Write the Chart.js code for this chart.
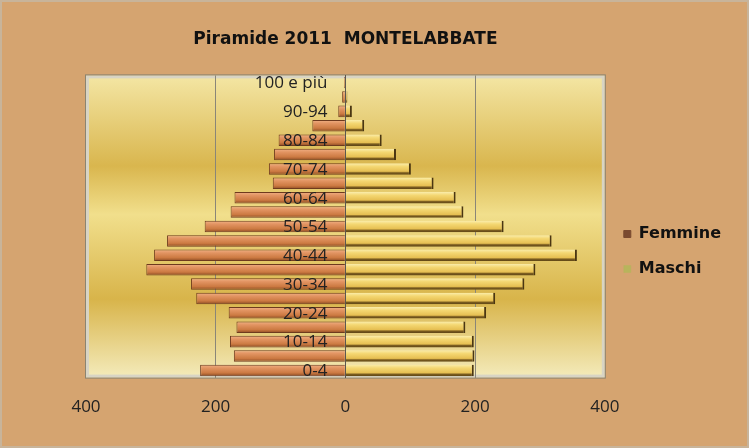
<!DOCTYPE html>
<html lang="it">
<head>
    <meta charset="UTF-8">
    <title>Piramide 2011 MONTELABBATE</title>
    <script src="https://cdn.jsdelivr.net/npm/chart.js"></script>
    <style>
        html, body { margin: 0; padding: 0; background: #d4a26e; }
        #wrap { width: 749px; height: 448px; }
    </style>
</head>
<body>
    <div id="wrap"><canvas id="piramide" width="749" height="448"></canvas></div>

    <script>
        // classi di età, dalla più giovane alla più anziana
        const ageGroups = ['0-4', '5-9', '10-14', '15-19', '20-24', '25-29', '30-34', '35-39',
            '40-44', '45-49', '50-54', '55-59', '60-64', '65-69', '70-74', '75-79',
            '80-84', '85-89', '90-94', '95-99', '100 e più'];
        // valori (femmine a sinistra, quindi negativi)
        const femmine = [-224, -172, -178, -168, -180, -230, -238, -307, -295, -275, -217,
            -177, -171, -112, -118, -110, -103, -51, -11, -5, -2];
        const maschi = [198, 199, 198, 185, 217, 231, 276, 293, 357, 318, 244,
            182, 170, 136, 101, 78, 56, 29, 10, 3, 1];
        const xTicks = [-400, -200, 0, 200, 400];

        const legendColors = ['#7a4a30', '#b8b45c'];

        // gradiente verticale per ogni barra, come l'effetto "cilindro" di Excel
        function barGradient(stops, fallback) {
            return function(ctx) {
                const chart = ctx.chart;
                const ys = chart.scales.y;
                if (!ys || ctx.dataIndex === undefined) return fallback;
                const yc = ys.getPixelForValue(ctx.dataIndex);
                if (!isFinite(yc)) return fallback;
                const g = chart.ctx.createLinearGradient(0, yc - 6, 0, yc + 6);
                stops.forEach(s => g.addColorStop(s[0], s[1]));
                return g;
            };
        }

        // sfondo sughero e area del grafico dorata
        const backdrop = {
            id: 'backdrop',
            beforeDraw(chart) {
                const c = chart.ctx;
                const a = chart.chartArea;
                c.save();
                c.fillStyle = '#d5a470';
                c.fillRect(0, 0, chart.width, chart.height);
                c.strokeStyle = '#c8b49a';
                c.lineWidth = 2;
                c.strokeRect(1, 1, chart.width - 2, chart.height - 2);

                const g = c.createLinearGradient(0, a.top, 0, a.bottom);
                g.addColorStop(0, '#f4e6a4');
                g.addColorStop(0.30, '#d9b64e');
                g.addColorStop(0.46, '#f1df8c');
                g.addColorStop(0.74, '#d8b44a');
                g.addColorStop(1, '#f4ebbb');
                c.fillStyle = g;
                c.fillRect(a.left, a.top, a.right - a.left, a.bottom - a.top);
                c.lineWidth = 3;
                c.strokeStyle = '#d8d4c4';
                c.strokeRect(a.left + 1.5, a.top + 1.5, a.right - a.left - 3, a.bottom - a.top - 3);
                c.lineWidth = 1;
                c.strokeStyle = '#8c8470';
                c.strokeRect(a.left - 0.5, a.top - 0.5, a.right - a.left + 1, a.bottom - a.top + 1);
                c.restore();
            }
        };

        // etichette delle classi di età accanto all'asse dello zero, sopra le barre
        const ageLabels = {
            id: 'ageLabels',
            afterDatasetsDraw(chart) {
                const c = chart.ctx;
                const ys = chart.scales.y;
                const x0 = chart.scales.x.getPixelForValue(0) - 18;
                c.save();
                c.font = '17px "Open Sans"';
                c.fillStyle = '#222';
                c.textAlign = 'right';
                c.textBaseline = 'middle';
                ys.ticks.forEach((t, i) => {
                    if (i % 2) return;
                    c.fillText(ys.getLabelForValue(t.value), x0, ys.getPixelForTick(i) + 1);
                });
                c.restore();
            }
        };

        const ctx = document.getElementById('piramide').getContext('2d');
        new Chart(ctx, {
            type: 'bar',
            data: {
                labels: ageGroups,
                datasets: [{
                    label: 'Femmine',
                    data: femmine,
                    backgroundColor: barGradient([[0, '#f2b48a'], [0.3, '#e29462'], [0.7, '#cc7a42'], [1, '#864620']], legendColors[0]),
                    borderColor: '#6e3a1e',
                    borderWidth: 1,
                    borderSkipped: 'start'
                }, {
                    label: 'Maschi',
                    data: maschi,
                    backgroundColor: barGradient([[0, '#fbefb0'], [0.3, '#f4d772'], [0.7, '#e6bf52'], [0.82, '#7a5c20'], [1, '#5a4214']], legendColors[1]),
                    borderColor: '#4a3612',
                    borderWidth: { top: 0, right: 2, bottom: 0, left: 0 },
                    borderSkipped: 'start'
                }]
            },
            options: {
                indexAxis: 'y',
                responsive: false,
                animation: false,
                layout: { padding: { left: 86, right: 18, top: 0, bottom: 12 } },
                datasets: {
                    bar: { categoryPercentage: 1, barPercentage: 0.8 }
                },
                scales: {
                    x: {
                        stacked: true,
                        min: -400,
                        max: 400,
                        afterBuildTicks: axis => { axis.ticks = xTicks.map(v => ({ value: v })); },
                        ticks: {
                            callback: v => Math.abs(v),
                            color: '#222',
                            padding: 19,
                            font: { family: 'Open Sans', size: 17 }
                        },
                        grid: {
                            drawTicks: false,
                            color: c => (c.tick && Math.abs(c.tick.value) === 200) ? '#8a8678' : 'transparent'
                        },
                        border: { display: false }
                    },
                    y: {
                        stacked: true,
                        reverse: true,
                        position: { x: 0 },
                        ticks: { display: false, autoSkip: false },
                        grid: { display: false, drawTicks: false },
                        border: { display: true, color: '#5a5650', width: 1 }
                    }
                },
                plugins: {
                    title: {
                        display: true,
                        text: 'Piramide 2011  MONTELABBATE',
                        fullSize: false,
                        color: '#111',
                        font: { family: 'DejaVu Sans', size: 17, weight: 'bold' },
                        padding: { top: 29, bottom: 26 }
                    },
                    legend: {
                        position: 'right',
                        title: { display: true, text: ' ', font: { size: 1, lineHeight: 1 }, padding: { top: 66, bottom: 0 } },
                        labels: {
                            boxWidth: 7,
                            boxHeight: 7,
                            padding: 19,
                            color: '#111',
                            font: { family: 'DejaVu Sans', size: 16, weight: 'bold' },
                            generateLabels: chart => Chart.defaults.plugins.legend.labels.generateLabels(chart)
                                .map((it, i) => Object.assign(it, { fillStyle: legendColors[i], strokeStyle: legendColors[i] }))
                        }
                    },
                    tooltip: { enabled: false }
                }
            },
            plugins: [backdrop, ageLabels]
        });
    </script>
</body>
</html>
